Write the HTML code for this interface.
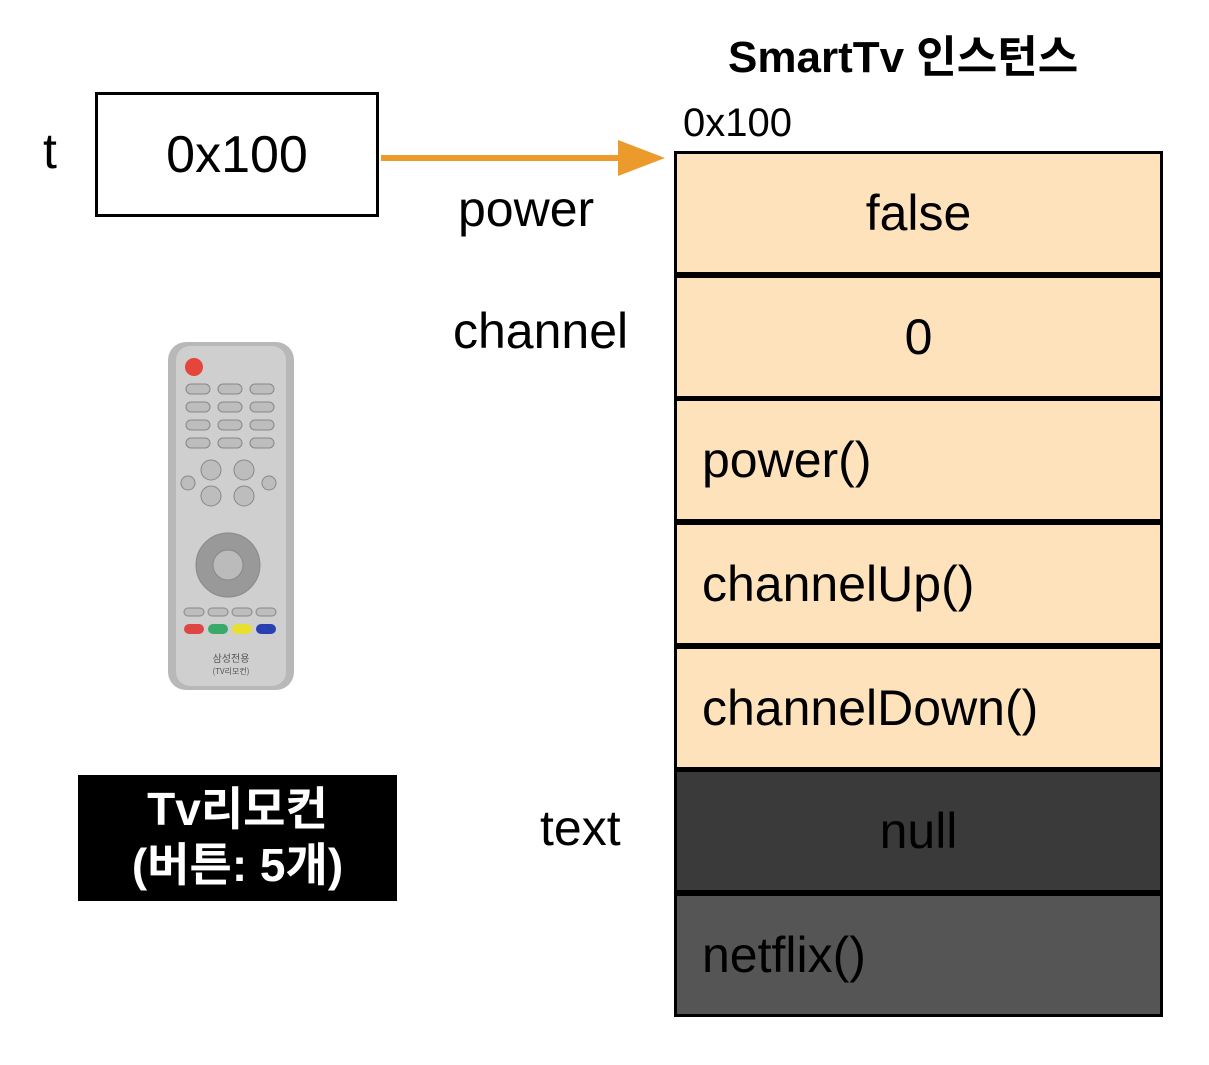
<!DOCTYPE html>
<html><head><meta charset="utf-8"><style>
body{margin:0;width:1209px;height:1065px;background:#fff;position:relative;overflow:hidden;font-family:"Liberation Sans","Noto Sans CJK KR",sans-serif;}
.a{position:absolute;white-space:nowrap;line-height:1;}
.row{position:absolute;left:674px;width:483px;height:118px;border:3px solid #000;font-size:50px;display:flex;align-items:center;}
.c{justify-content:center}
.l{padding-left:25px;box-sizing:content-box;width:458px}
</style></head><body>
<div class="a" style="left:0;width:1209px;top:0"></div>
<div class="a" style="left:728px;top:36px;font-size:44px;font-weight:bold">SmartTv 인스턴스</div>
<div class="a" style="left:683px;top:103px;font-size:40px">0x100</div>
<div class="a" style="left:43px;top:126px;font-size:50px">t</div>
<div class="a" style="left:95px;top:92px;width:278px;height:119px;border:3px solid #000;font-size:52px;display:flex;align-items:center;justify-content:center">0x100</div>
<svg class="a" style="left:0;top:0" width="1209" height="1065">
<line x1="381" y1="158" x2="625" y2="158" stroke="#ec9a2c" stroke-width="6"/>
<polygon points="618,140 665,158 618,176" fill="#ec9a2c"/>
</svg>
<div class="a" style="left:458px;top:184px;font-size:50px">power</div>
<div class="a" style="left:453px;top:306px;font-size:50px">channel</div>
<div class="a" style="left:540px;top:803px;font-size:50px">text</div>
<div class="row c" style="top:151px;background:#fde2bc">false</div>
<div class="row c" style="top:275px;background:#fde2bc">0</div>
<div class="row l" style="top:398px;background:#fde2bc">power()</div>
<div class="row l" style="top:522px;background:#fde2bc">channelUp()</div>
<div class="row l" style="top:646px;background:#fde2bc">channelDown()</div>
<div class="row c" style="top:769px;background:#3a3a3a">null</div>
<div class="row l" style="top:893px;background:#555">netflix()</div>
<div class="a" style="left:78px;top:775px;width:319px;height:126px;background:#000;color:#fff;font-weight:bold;font-size:46px;line-height:56px;text-align:center;padding-top:6px;box-sizing:border-box">Tv리모컨<br>(버튼: 5개)</div>
<svg class="a" style="left:166px;top:340px" width="130" height="352" viewBox="0 0 130 352">
<rect x="2" y="2" width="126" height="348" rx="18" fill="#b8b8b8"/>
<rect x="10" y="6" width="110" height="340" rx="14" fill="#cfcfcf"/>
<circle cx="28" cy="27" r="9" fill="#e5453a"/>
<g fill="#bdbdbd" stroke="#888">
<rect x="20" y="44" width="24" height="10" rx="5"/><rect x="52" y="44" width="24" height="10" rx="5"/><rect x="84" y="44" width="24" height="10" rx="5"/>
<rect x="20" y="62" width="24" height="10" rx="5"/><rect x="52" y="62" width="24" height="10" rx="5"/><rect x="84" y="62" width="24" height="10" rx="5"/>
<rect x="20" y="80" width="24" height="10" rx="5"/><rect x="52" y="80" width="24" height="10" rx="5"/><rect x="84" y="80" width="24" height="10" rx="5"/>
<rect x="20" y="98" width="24" height="10" rx="5"/><rect x="52" y="98" width="24" height="10" rx="5"/><rect x="84" y="98" width="24" height="10" rx="5"/>
<circle cx="45" cy="130" r="10"/><circle cx="45" cy="156" r="10"/><circle cx="78" cy="130" r="10"/><circle cx="78" cy="156" r="10"/>
<circle cx="22" cy="143" r="7"/><circle cx="103" cy="143" r="7"/>
<circle cx="62" cy="225" r="32" fill="#999"/><circle cx="62" cy="225" r="15" fill="#bbb"/>
<rect x="18" y="268" width="20" height="8" rx="4"/><rect x="42" y="268" width="20" height="8" rx="4"/><rect x="66" y="268" width="20" height="8" rx="4"/><rect x="90" y="268" width="20" height="8" rx="4"/>
</g>
<rect x="18" y="284" width="20" height="10" rx="5" fill="#e04545"/><rect x="42" y="284" width="20" height="10" rx="5" fill="#3aaa6a"/><rect x="66" y="284" width="20" height="10" rx="5" fill="#e8e030"/><rect x="90" y="284" width="20" height="10" rx="5" fill="#2a3fb0"/>
<text x="65" y="322" font-size="10" text-anchor="middle" fill="#555" font-family="Noto Sans CJK KR,sans-serif">삼성전용</text>
<text x="65" y="334" font-size="8" text-anchor="middle" fill="#555" font-family="Noto Sans CJK KR,sans-serif">(TV리모컨)</text>
</svg>
</body></html>
